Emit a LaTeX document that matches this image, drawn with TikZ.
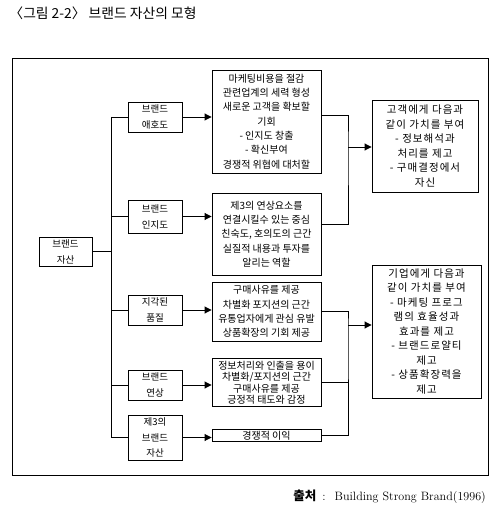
\documentclass[tikz,border=0pt]{standalone}
\usepackage{fontspec}
\newfontfamily\kr{Noto Sans CJK KR}
\newfontfamily\krwide[LetterSpace = 10]{Noto Sans CJK KR}
\usetikzlibrary{arrows.meta}
\begin{document}
\begin{tikzpicture} [x = 1pt, y = -1pt, line width = 0.9pt,
  box/.style = {draw, inner sep = 0pt, align = center, font = \kr\fontsize{10}{14.3}\selectfont},
  tag/.style = {box, minimum width = 54pt, font = \kr\fontsize{9.5}{16}\selectfont},
  role/.style = {box, minimum width = 109pt},
  gain/.style = {box, font = \krwide\fontsize{10.5}{14.5}\selectfont},
  arr/.style = {-{Triangle[length = 7pt, width = 7pt]}}]
\useasboundingbox (0,0) rectangle (502,510);
\node [anchor = west, inner sep = 0pt, font = \kr\fontsize{13.8}{15}\selectfont] (title) at (9,13) {〈그림 2-2〉 브랜드 자산의 모형};
\draw (12,58) rectangle (488,475);
\node [tag, minimum width = 53pt, minimum height = 29pt] (hub) at (65.5,251.5) {브랜드\\자산};
\node [tag, minimum height = 30pt] (loyal) at (155,117) {브랜드\\애호도};
\node [tag, minimum height = 33pt] (aware) at (155,216.5) {브랜드\\인지도};
\node [tag, minimum height = 30pt] (quality) at (155,310) {지각된\\품질};
\node [tag, minimum height = 30pt] (assoc) at (155,385) {브랜드\\연상};
\node [tag, minimum height = 45pt, font = \kr\fontsize{9.5}{15.5}\selectfont] (other) at (155,437.5) {제3의\\브랜드\\자산};
\node [role, minimum height = 103pt] (b1) at (266.5,121.5) {마케팅비용을 절감\\관련업계의 세력 형성\\새로운 고객을 확보할\\기회\\- 인지도 창출\\- 확신부여\\경쟁적 위협에 대처할};
\node [role, minimum height = 82pt] (b2) at (266.5,234) {제3의 연상요소를\\연결시킬수 있는 중심\\친숙도, 호의도의 근간\\실질적 내용과 투자를\\알리는 역할};
\node [role, minimum height = 59pt] (b3) at (266.5,311.5) {구매사유를 제공\\차별화 포지션의 근간\\유통업자에게 관심 유발\\상품확장의 기회 제공};
\node [role, minimum height = 48pt, font = \kr\fontsize{10}{11.5}\selectfont] (b4) at (266.5,382.5) {정보처리와 인출을 용이\\차별화/포지션의 근간\\구매사유를 제공\\긍정적 태도와 감정};
\node [role, minimum height = 12pt] (b5) at (266.5,435.5) {경쟁적 이익};
\node [gain, minimum width = 106pt, minimum height = 92pt] (value1) at (425,146) {고객에게 다음과\\같이 가치를 부여\\- 정보해석과\\처리를 제고\\- 구매결정에서\\자신};
\node [gain, minimum width = 109pt, minimum height = 133pt] (value2) at (426.5,331.5) {기업에게 다음과\\같이 가치를 부여\\- 마케팅 프로그\\램의 효율성과\\효과를 제고\\- 브랜드로얄티\\제고\\- 상품확장력을\\제고};
\coordinate (spine) at (111,251.5);
\draw (hub) -- (spine);
\draw (loyal.west -| spine) -- (other.west -| spine);
\foreach \n in {loyal,aware,quality,assoc,other}
  \draw (\n.west -| spine) -- (\n.west);
\foreach \n/\m in {loyal/b1,aware/b2,quality/b3,assoc/b4,other/b5}
  \draw [arr] (\n.east) -- (\n.east -| \m.west);
\coordinate (j1) at (348,147);
\coordinate (j2) at (348,325);
\draw ([yshift = 6.5pt]b1.east) -| (j1) |- ([yshift = 10pt]b2.east);
\draw (b3.east) -| (j2) |- (b5.east);
\draw (b4.east) -- (b4.east -| j2);
\draw [arr] (j1) -- (j1 -| value1.west);
\draw [arr] (j2) -- (j2 -| value2.west);
\node [anchor = west, inner sep = 0pt, font = \fontsize{12.1}{13}\selectfont] (source) at (293,497) {{\kr\fontsize{12.5}{13}\selectfont\bfseries 출처}\hspace{6pt}:\hspace{9pt}Building Strong Brand(1996)};
\end{tikzpicture}
\end{document}
